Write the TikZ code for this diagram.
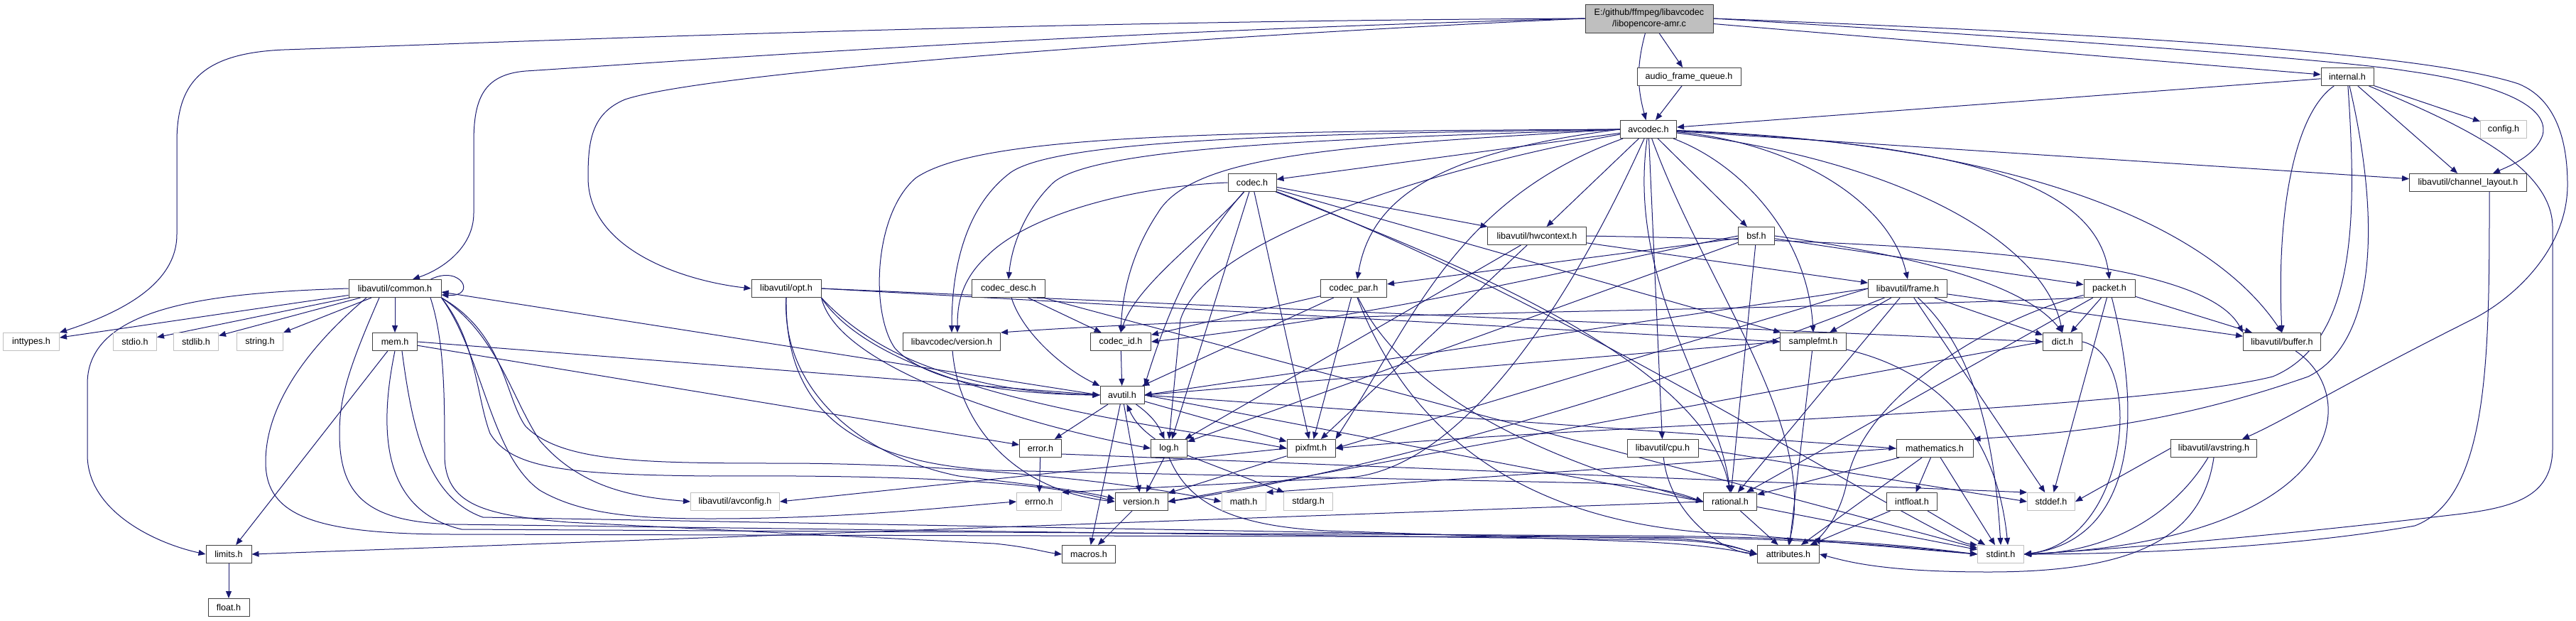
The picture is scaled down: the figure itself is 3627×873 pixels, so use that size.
\documentclass[tikz,border=0pt]{standalone}
\usepackage{fontspec}
\setmainfont{Liberation Sans}
\usetikzlibrary{arrows.meta}
\definecolor{depblue}{RGB}{25,25,112}
\definecolor{framegray}{RGB}{64,64,64}
\definecolor{sysgray}{RGB}{191,191,191}
\definecolor{rootfill}{RGB}{191,191,191}
\pgfdeclarelayer{edges}
\pgfsetlayers{edges,main}

\begin{document}
\begin{tikzpicture}[x=1pt, y=-1pt, line join=round,
  hdr/.style={draw=framegray, fill=white, line width=1pt, minimum height=25pt,
    inner sep=0pt, font=\fontsize{12.6}{16}\selectfont},
  sysh/.style={hdr, draw=sysgray},
  rootbox/.style={hdr, fill=rootfill, minimum height=40pt, align=center},
  dep/.style={draw=depblue, line width=1pt, -{Triangle[length=10pt,width=8pt]}}]

\useasboundingbox (0,0) rectangle (3627,873);

% ---------- headers, rank by rank ----------
\node[rootbox, minimum width=180pt] (root) at (2322,26) {E:/github/ffmpeg/libavcodec\\/libopencore-amr.c};

\node[hdr, minimum width=146pt] (afq) at (2378,108) {audio\_frame\_queue.h};
\node[hdr, minimum width=74pt] (internal) at (3305,108) {internal.h};

\node[hdr, minimum width=79pt] (avcodec) at (2321,182) {avcodec.h};
\node[sysh, minimum width=65pt] (config) at (3525,182) {config.h};

\node[hdr, minimum width=68pt] (codec) at (1763,257) {codec.h};
\node[hdr, minimum width=165pt] (chlayout) at (3475,257) {libavutil/channel\_layout.h};

\node[hdr, minimum width=139pt] (hwctx) at (2164,332) {libavutil/hwcontext.h};
\node[hdr, minimum width=51pt] (bsf) at (2473,332) {bsf.h};

\node[hdr, minimum width=130pt] (common) at (556,406) {libavutil/common.h};
\node[hdr, minimum width=98pt] (opt) at (1107,406) {libavutil/opt.h};
\node[hdr, minimum width=103pt] (codecdesc) at (1420,406) {codec\_desc.h};
\node[hdr, minimum width=93pt] (codecpar) at (1906,406) {codec\_par.h};
\node[hdr, minimum width=111pt] (frame) at (2686,406) {libavutil/frame.h};
\node[hdr, minimum width=72pt] (packet) at (2970,406) {packet.h};

\node[sysh, minimum width=79pt] (inttypes) at (44,481) {inttypes.h};
\node[sysh, minimum width=61pt] (stdio) at (190,481) {stdio.h};
\node[sysh, minimum width=63pt] (stdlib) at (276,481) {stdlib.h};
\node[sysh, minimum width=65pt] (string) at (366,481) {string.h};
\node[hdr, minimum width=63pt] (mem) at (556,481) {mem.h};
\node[hdr, minimum width=137pt] (lcversion) at (1340,481) {libavcodec/version.h};
\node[hdr, minimum width=85pt] (codecid) at (1578,481) {codec\_id.h};
\node[hdr, minimum width=93pt] (samplefmt) at (2553,481) {samplefmt.h};
\node[hdr, minimum width=55pt] (dict) at (2904,481) {dict.h};
\node[hdr, minimum width=109pt] (buffer) at (3213,481) {libavutil/buffer.h};

\node[hdr, minimum width=62pt] (avutil) at (1580,556) {avutil.h};

\node[hdr, minimum width=59pt] (error) at (1465,631) {error.h};
\node[hdr, minimum width=51pt] (log) at (1646,631) {log.h};
\node[hdr, minimum width=68pt] (pixfmt) at (1846,631) {pixfmt.h};
\node[hdr, minimum width=100pt] (cpu) at (2341,631) {libavutil/cpu.h};
\node[hdr, minimum width=108pt] (mathematics) at (2724,631) {mathematics.h};
\node[hdr, minimum width=121pt] (avstring) at (3117,631) {libavutil/avstring.h};

\node[sysh, minimum width=125pt] (avconfig) at (1035,706) {libavutil/avconfig.h};
\node[sysh, minimum width=63pt] (errno) at (1463,706) {errno.h};
\node[hdr, minimum width=74pt] (version) at (1607,706) {version.h};
\node[sysh, minimum width=62pt] (math) at (1751,706) {math.h};
\node[sysh, minimum width=69pt] (stdarg) at (1842,706) {stdarg.h};
\node[hdr, minimum width=75pt] (rational) at (2436,706) {rational.h};
\node[hdr, minimum width=71pt] (intfloat) at (2692,706) {intfloat.h};
\node[sysh, minimum width=67pt] (stddef) at (2888,706) {stddef.h};

\node[hdr, minimum width=64pt] (limits) at (322,780) {limits.h};
\node[hdr, minimum width=75pt] (macros) at (1533,780) {macros.h};
\node[hdr, minimum width=87pt] (attributes) at (2518,780) {attributes.h};
\node[sysh, minimum width=65pt] (stdint) at (2817,780) {stdint.h};

\node[hdr, minimum width=58pt] (float) at (322,855) {float.h};

\begin{pgfonlayer}{edges}
\fill[white] (0,0) rectangle (3627,873);

% ---------- libopencore-amr.c ----------
\draw[dep] (root.west) .. controls (1400,30) and (700,60) .. (400,70) .. controls (280,75) and (249,120) .. (249,200) -- (249,330) .. controls (249,400) and (170,440) .. (inttypes.north east);
\draw[dep] (root.west) .. controls (1500,45) and (900,90) .. (740,100) .. controls (680,105) and (667,140) .. (667,200) -- (667,300) .. controls (667,350) and (620,380) .. ([xshift=25pt]common.north);
\draw[dep] (root.west) .. controls (1700,50) and (1000,100) .. (880,140) .. controls (832,160) and (828,200) .. (828,250) .. controls (828,350) and (960,395) .. (opt.west);
\draw[dep] (root) to[out=-105,in=105] (avcodec);
\draw[dep] (root) -- (afq);
\draw[dep] (root) -- (internal);
\draw[dep] (root.east) .. controls (2900,55) and (3300,85) .. (3390,100) .. controls (3520,118) and (3590,150) .. (3580,190) .. controls (3570,220) and (3530,235) .. ([xshift=35pt]chlayout.north);
\draw[dep] (root.east) .. controls (2900,45) and (3400,70) .. (3546,118) .. controls (3600,140) and (3615,200) .. (3615,260) .. controls (3615,350) and (3540,420) .. (3480,450) .. controls (3300,540) and (3220,590) .. ([xshift=40pt]avstring.north);

% ---------- audio_frame_queue.h, internal.h ----------
\draw[dep] (afq) -- (avcodec);
\draw[dep] (internal) -- (avcodec);
\draw[dep] (internal) -- (config);
\draw[dep] (internal) -- (chlayout);
\draw[dep] (internal) .. controls (3230,160) and (3205,300) .. (buffer.north);
\draw[dep] (internal) .. controls (3318,300) and (3320,480) .. (3200,530) .. controls (3000,580) and (2200,600) .. (pixfmt.east);
\draw[dep] (internal) .. controls (3350,300) and (3350,480) .. (3250,530) .. controls (3050,600) and (2900,610) .. (mathematics.north east);
\draw[dep] (internal) .. controls (3450,170) and (3594,230) .. (3594,320) -- (3594,630) .. controls (3594,700) and (3540,715) .. (3450,725) .. controls (3200,755) and (2950,775) .. (stdint.east);

% ---------- avcodec.h ----------
\draw[dep] (avcodec) -- (codec);
\draw[dep] (avcodec) -- (hwctx);
\draw[dep] (avcodec) -- (bsf);
\draw[dep] (avcodec) -- (cpu);
\draw[dep] (avcodec) -- (chlayout);
\draw[dep] (avcodec.west) .. controls (1900,195) and (1530,205) .. (1480,260) .. controls (1440,300) and (1424,350) .. (codecdesc.north);
\draw[dep] (avcodec.west) .. controls (1850,188) and (1480,195) .. (1420,245) .. controls (1350,300) and (1340,400) .. (lcversion.north);
\draw[dep] (avcodec.west) .. controls (1900,205) and (1680,215) .. (1630,300) .. controls (1590,360) and (1580,420) .. (codecid.north);
\draw[dep] (avcodec.west) .. controls (1700,185) and (1380,190) .. (1290,250) .. controls (1230,300) and (1225,440) .. (1260,490) .. controls (1310,545) and (1450,555) .. (avutil.west);
\draw[dep] (avcodec.west) .. controls (2020,215) and (1930,280) .. ([xshift=5pt]codecpar.north);
\draw[dep] (avcodec) .. controls (2200,450) and (2050,660) .. (1900,672) -- (errno.north east);
\draw[dep] (avcodec) .. controls (2050,230) and (1700,330) .. (1662,450) -- (log.north);
\draw[dep] (avcodec) .. controls (2050,280) and (1990,450) .. (pixfmt.north east);
\draw[dep] (avcodec) .. controls (2290,400) and (2420,560) .. (rational.north);
\draw[dep] (avcodec) .. controls (2400,400) and (2560,600) .. (attributes.north);
\draw[dep] (avcodec) .. controls (2450,230) and (2545,330) .. (samplefmt.north);
\draw[dep] (avcodec) .. controls (2520,200) and (2660,280) .. (frame.north);
\draw[dep] (avcodec) .. controls (2700,200) and (2950,240) .. (packet.north);
\draw[dep] (avcodec) .. controls (2700,230) and (2880,350) .. (dict.north);
\draw[dep] (avcodec) .. controls (2800,200) and (3100,300) .. (buffer.north);

% ---------- codec.h and friends ----------
\draw[dep] (codec.west) .. controls (1600,262) and (1450,300) .. (1390,360) .. controls (1352,395) and (1348,430) .. ([xshift=8pt]lcversion.north);
\draw[dep] (codec) .. controls (1700,330) and (1600,400) .. (codecid.north);
\draw[dep] (codec) .. controls (1680,350) and (1640,450) .. (avutil.north east);
\draw[dep] (codec) -- (hwctx);
\draw[dep] (codec) -- (log);
\draw[dep] (codec) -- (pixfmt);
\draw[dep] (codec) .. controls (2000,350) and (2400,500) .. (rational.north);
\draw[dep] (codec) -- (samplefmt);
\draw[dep] (codec) .. controls (2200,420) and (2720,760) .. (stdint.north west);

\draw[dep] (codecdesc) -- (codecid);
\draw[dep] (codecdesc) .. controls (1440,470) and (1500,520) .. (avutil.north west);
\draw[dep] (codecdesc) -- (stdint);
\draw[dep] (codecpar) -- (codecid);
\draw[dep] (codecpar) -- (avutil);
\draw[dep] (codecpar) -- (pixfmt);
\draw[dep] (codecpar) .. controls (2000,600) and (2300,680) .. (rational.west);
\draw[dep] (codecpar) .. controls (2000,650) and (2200,745) .. (2450,752) -- (stdint.west);
\draw[dep] (codecid) -- (avutil);
\draw[dep] (lcversion) .. controls (1350,600) and (1430,690) .. (version.west);

% ---------- packet.h, bsf.h, hwcontext.h, frame.h ----------
\draw[dep] (packet.south west) .. controls (2600,435) and (1800,440) .. (lcversion.north east);
\draw[dep] (packet) .. controls (2800,450) and (2620,560) .. (2600,680) .. controls (2590,730) and (2560,760) .. (attributes.north east);
\draw[dep] (packet) .. controls (3020,600) and (3000,760) .. (stdint.east);
\draw[dep] (packet) -- (buffer);
\draw[dep] (packet) -- (dict);
\draw[dep] (packet) -- (rational);
\draw[dep] (packet) -- (stddef);

\draw[dep] (bsf.east) .. controls (2700,360) and (2850,400) .. (dict.north);
\draw[dep] (bsf) -- (packet);
\draw[dep] (bsf) -- (log);
\draw[dep] (bsf.west) .. controls (2200,380) and (1980,440) .. (codecid.east);
\draw[dep] (bsf) -- (codecpar);
\draw[dep] (bsf) -- (rational);

\draw[dep] (hwctx.east) .. controls (2700,340) and (3100,360) .. (buffer.north west);
\draw[dep] (hwctx) -- (frame);
\draw[dep] (hwctx) -- (log);
\draw[dep] (hwctx) -- (pixfmt);

\draw[dep] (frame) -- (stddef);
\draw[dep] (frame) .. controls (2790,500) and (2810,650) .. (stdint.north);
\draw[dep] (frame.west) -- (avutil.east);
\draw[dep] (frame) -- (buffer);
\draw[dep] (frame) -- (dict);
\draw[dep] (frame) -- (rational);
\draw[dep] (frame) -- (samplefmt);
\draw[dep] (frame.west) -- (pixfmt.east);
\draw[dep] (frame) .. controls (2300,560) and (1900,670) .. (version.east);

% ---------- common.h, mem.h ----------
\draw[dep] (common) -- (inttypes);
\draw[dep] (common) -- (stdio);
\draw[dep] (common) -- (stdlib);
\draw[dep] (common) -- (string);
\draw[dep] (common) -- (mem);
\draw[dep] (common.west) .. controls (300,412) and (123,430) .. (123,540) -- (123,640) .. controls (123,720) and (220,765) .. (limits.west);
\draw[dep] ([xshift=-15pt]common.north east) .. controls (650,372) and (672,418) .. ([yshift=4pt]common.south east);
\draw[dep] (common.south east) .. controls (700,470) and (720,560) .. (760,620) .. controls (820,690) and (900,700) .. (avconfig.west);
\draw[dep] (common.south east) .. controls (680,500) and (690,640) .. (760,690) .. controls (820,725) and (900,730) .. (1000,730) .. controls (1200,730) and (1350,712) .. (errno.west);
\draw[dep] (common.south east) .. controls (711,470) and (711,560) .. (740,600) .. controls (790,650) and (900,652) .. (1100,652) .. controls (1350,652) and (1600,680) .. (math.west);
\draw[dep] (common.south east) .. controls (671,480) and (671,560) .. (690,610) .. controls (720,660) and (800,668) .. (1000,670) .. controls (1300,668) and (1480,680) .. (version.west);
\draw[dep] ([xshift=50pt]common.south) .. controls (626,480) and (626,560) .. (626,640) .. controls (626,710) and (680,725) .. (800,735) -- (1400,765) .. controls (1450,770) and (1470,777) .. (macros.west);
\draw[dep] ([xshift=-22pt]common.south) .. controls (490,520) and (478,560) .. (478,610) .. controls (478,700) and (520,735) .. (640,738) -- (2350,760) .. controls (2420,762) and (2450,772) .. (attributes.west);
\draw[dep] ([xshift=-40pt]common.south) .. controls (420,500) and (374,580) .. (374,650) .. controls (374,725) and (440,752) .. (640,752) -- (2300,756) .. controls (2600,758) and (2700,772) .. (stdint.west);

\draw[dep] (mem) -- (limits);
\draw[dep] (mem.south) .. controls (530,620) and (545,720) .. (650,745) -- (2300,754) .. controls (2600,756) and (2700,770) .. (stdint.west);
\draw[dep] ([xshift=10pt]mem.south) .. controls (580,600) and (600,700) .. (680,728) -- (2350,758) .. controls (2420,760) and (2450,772) .. (attributes.west);
\draw[dep] (mem) -- (error);
\draw[dep] (mem.east) -- (avutil.west);

% ---------- opt.h ----------
\draw[dep] (opt.south) .. controls (1105,560) and (1180,650) .. (1400,662) -- (2250,680) .. controls (2350,685) and (2380,700) .. (rational.west);
\draw[dep] (opt.south east) .. controls (1250,520) and (1400,553) .. (avutil.west);
\draw[dep] (opt.east) -- (dict.west);
\draw[dep] (opt.south east) .. controls (1180,520) and (1450,600) .. (log.west);
\draw[dep] (opt.south east) .. controls (1250,560) and (1650,600) .. (pixfmt.west);
\draw[dep] (opt.east) -- (samplefmt.west);
\draw[dep] (opt.south) .. controls (1100,540) and (1200,640) .. (1350,670) .. controls (1450,682) and (1520,690) .. ([yshift=4pt]version.west);

% ---------- avutil.h ----------
\draw[dep] (avutil.west) -- ([yshift=-5pt]common.east);
\draw[dep] (avutil) -- (error);
\draw[dep] (avutil.east) -- (rational.west);
\draw[dep] (avutil) -- (version);
\draw[dep] (avutil) -- (macros);
\draw[dep] (avutil.east) -- (mathematics.west);
\draw[dep] (avutil) to[bend left=15] (log);
\draw[dep] (avutil) -- (pixfmt);

% ---------- remaining libavutil headers ----------
\draw[dep] (samplefmt) .. controls (2720,520) and (2810,600) .. ([xshift=10pt]stdint.north);
\draw[dep] (samplefmt.west) -- (avutil.east);
\draw[dep] (samplefmt) -- (attributes);
\draw[dep] (dict.east) .. controls (3020,500) and (3000,760) .. (stdint.east);
\draw[dep] (dict.west) -- (version.east);
\draw[dep] (buffer) .. controls (3330,560) and (3300,760) .. (stdint.east);
\draw[dep] ([xshift=30pt]chlayout.south) .. controls (3505,500) and (3505,700) .. (3400,740) .. controls (3200,775) and (2950,780) .. (stdint.east);
\draw[dep] (avstring.west) -- (stddef.east);
\draw[dep] (avstring.south) .. controls (3100,760) and (3000,805) .. (2800,805) .. controls (2650,805) and (2600,790) .. (attributes.east);
\draw[dep] (avstring) .. controls (3050,740) and (2950,778) .. (stdint.east);

\draw[dep] (log) -- (stdarg);
\draw[dep] (log) to[bend left=15] (avutil);
\draw[dep] (log.south) .. controls (1670,700) and (1720,745) .. (1900,748) -- (2300,762) .. controls (2400,766) and (2440,775) .. (attributes.west);
\draw[dep] (log) -- (version);
\draw[dep] (error) -- (errno);
\draw[dep] ([yshift=-8pt]error.east) -- (stddef.north west);
\draw[dep] (pixfmt.west) -- (avconfig.east);
\draw[dep] (pixfmt) -- (version);
\draw[dep] (cpu.east) -- (stddef.west);
\draw[dep] (cpu) .. controls (2350,720) and (2420,775) .. (attributes.west);

\draw[dep] (mathematics) -- (stdint);
\draw[dep] (mathematics.west) -- (math.north east);
\draw[dep] (mathematics) -- (attributes);
\draw[dep] (mathematics) -- (rational);
\draw[dep] (mathematics) -- (intfloat);
\draw[dep] (version) -- (macros);
\draw[dep] (rational) -- (stdint);
\draw[dep] (rational.west) -- (limits.east);
\draw[dep] (rational) -- (attributes);
\draw[dep] (intfloat) -- (stdint);
\draw[dep] (intfloat) -- (attributes);
\draw[dep] (limits) -- (float);
\end{pgfonlayer}

\end{tikzpicture}
\end{document}
